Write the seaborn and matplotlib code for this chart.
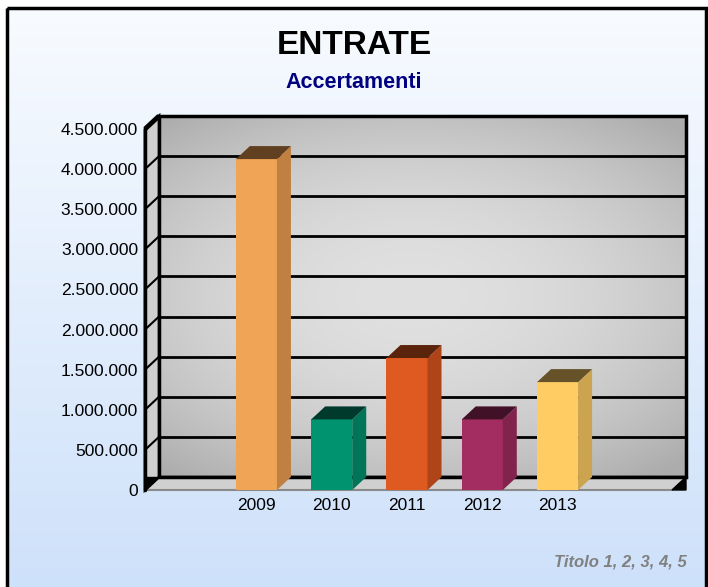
import numpy as np
import matplotlib
matplotlib.use("Agg")
import matplotlib.pyplot as plt
import seaborn as sns
from matplotlib.patches import Polygon, Rectangle
from matplotlib.ticker import FuncFormatter

# Data
anni = ["2009", "2010", "2011", "2012", "2013"]
accertamenti = [4125000, 880000, 1645000, 880000, 1345000]
tick_vals = [0, 500000, 1000000, 1500000, 2000000, 2500000, 3000000, 3500000, 4000000, 4500000]

# face colours of the 3D bars (front, side, top)
col_front = ["#F0A455", "#00936F", "#DF5A20", "#A32D61", "#FFCC64"]
col_side = ["#C08042", "#007558", "#AF4419", "#82234E", "#CCA450"]
col_top = ["#604020", "#003A2C", "#5A240C", "#411227", "#665228"]

sns.set_theme(style="white")
plt.rcParams['font.family'] = ['Liberation Sans', 'DejaVu Sans']

W, H = 708, 587
fig = plt.figure(figsize=(W / 100, H / 100), dpi=100)
fig.patch.set_facecolor("white")

# background gradient inside the frame
bg = fig.add_axes([0, 0, 1, 1], zorder=-10)
t = np.linspace(0, 1, 256)[:, None, None]
c_top = np.array([248, 251, 255]) / 255
c_bot = np.array([206, 225, 250]) / 255
bg.imshow(c_top + (c_bot - c_top) * t, aspect="auto", extent=[7, 706, 590, 8])
bg.add_patch(Rectangle((7, 8), 699, 590, fill=False, lw=2.5, ec="black"))
bg.set_xlim(0, W)
bg.set_ylim(H, 0)
bg.axis("off")

# front plane of the 3D box
x0f, x1f, y0f, y1f = 145, 672, 490, 129
ax = fig.add_axes([x0f / W, (H - y0f) / H, (x1f - x0f) / W, (y0f - y1f) / H])
ax.patch.set_visible(False)
for s in ax.spines.values():
    s.set_visible(False)

sns.barplot(x=anni, y=accertamenti, hue=anni, palette=col_front, legend=False,
            width=0.545, saturation=1, ax=ax, zorder=5)

xmin, xmax = -1.48, 5.52
ymax = tick_vals[-1]
ax.set_xlim(xmin, xmax)
ax.set_ylim(0, ymax)

# depth of the box in data units
dxd = 14 / ((x1f - x0f) / (xmax - xmin))
dyd = 13 / ((y0f - y1f) / ymax)

# back wall with a soft radial shading
gx, gy = np.meshgrid(np.linspace(0, 1, 300), np.linspace(0, 1, 300))
r2 = ((gx - 0.48) / 0.7) ** 2 + ((gy - 0.5) / 0.6) ** 2
shade = np.clip(224 - 46 * r2, 172, 230) / 255
ax.imshow(np.dstack([shade] * 3), aspect="auto", zorder=0, clip_on=False,
          extent=[xmin + dxd, xmax + dxd, dyd, ymax + dyd])
for v in tick_vals[1:-1]:
    ax.plot([xmin + dxd, xmax + dxd], [v + dyd, v + dyd], color="black",
            lw=2, zorder=1, clip_on=False)
ax.add_patch(Rectangle((xmin + dxd, dyd), xmax - xmin, ymax, fill=False,
                       ec="black", lw=2.5, zorder=2, clip_on=False))

# left side wall
ax.add_patch(Polygon([(xmin, 0), (xmin, ymax), (xmin + dxd, ymax + dyd), (xmin + dxd, dyd)],
                     closed=True, fc="#cfcfcf", ec="black", lw=2, zorder=2, clip_on=False))
for v in tick_vals:
    ax.plot([xmin, xmin + dxd], [v, v + dyd], color="black", lw=1.5, zorder=3, clip_on=False)
ax.plot([xmin, xmin + dxd], [ymax, ymax + dyd], color="black", lw=3.5, zorder=3,
        clip_on=False, solid_capstyle="butt")

# floor
ax.add_patch(Polygon([(xmin, 0), (xmax, 0), (xmax + dxd, dyd), (xmin + dxd, dyd)],
                     closed=True, fc="#d0d0d0", ec="none", zorder=2, clip_on=False))
ax.plot([xmin, xmax], [0, 0], color="#8a8a8a", lw=1.5, zorder=3, clip_on=False)
ax.plot([xmin + dxd, xmax + dxd], [dyd, dyd], color="black", lw=2.5, zorder=3, clip_on=False)
ax.add_patch(Polygon([(xmax, 0), (xmax + dxd, dyd), (xmax + dxd, 0)], closed=True,
                     fc="black", ec="black", lw=1, zorder=3, clip_on=False))
ax.add_patch(Polygon([(xmin, 0), (xmin, dyd), (xmin + dxd, dyd)], closed=True,
                     fc="black", ec="black", lw=1, zorder=3, clip_on=False))

# front axis line
ax.plot([xmin, xmin], [0, ymax], color="black", lw=2.5, zorder=4, clip_on=False)

# side and top faces of each bar
for i, bar in enumerate(ax.patches[:len(anni)]):
    bx, bw, bh = bar.get_x(), bar.get_width(), bar.get_height()
    bar.set_edgecolor("none")
    ax.add_patch(Polygon([(bx + bw, 0), (bx + bw, bh), (bx + bw + dxd, bh + dyd), (bx + bw + dxd, dyd)],
                         closed=True, fc=col_side[i], ec="none", zorder=5, clip_on=False))
    ax.add_patch(Polygon([(bx, bh), (bx + bw, bh), (bx + bw + dxd, bh + dyd), (bx + dxd, bh + dyd)],
                         closed=True, fc=col_top[i], ec="none", zorder=5, clip_on=False))

# ticks
ax.set_yticks(tick_vals)
ax.yaxis.set_major_formatter(FuncFormatter(lambda v, p: f"{int(v):,}".replace(",", ".")))
ax.tick_params(axis="y", length=0, pad=5, labelsize=12.5, labelcolor="black")
ax.tick_params(axis="x", length=0, pad=6, labelsize=12.5, labelcolor="black")
ax.set_xlabel("")
ax.set_ylabel("")

# titles
fig.text(354 / W, 1 - 46 / H, "ENTRATE", ha="center", va="center",
         fontsize=24, fontweight="bold", color="black")
fig.text(354 / W, 1 - 83 / H, "Accertamenti", ha="center", va="center",
         fontsize=15.5, fontweight="bold", color="#000080")
fig.text(687 / W, 1 - 562 / H, "Titolo 1, 2, 3, 4, 5", ha="right", va="center",
         fontsize=12, fontweight="bold", fontstyle="italic", color="#808080")

fig.savefig("out.png", dpi=100)
